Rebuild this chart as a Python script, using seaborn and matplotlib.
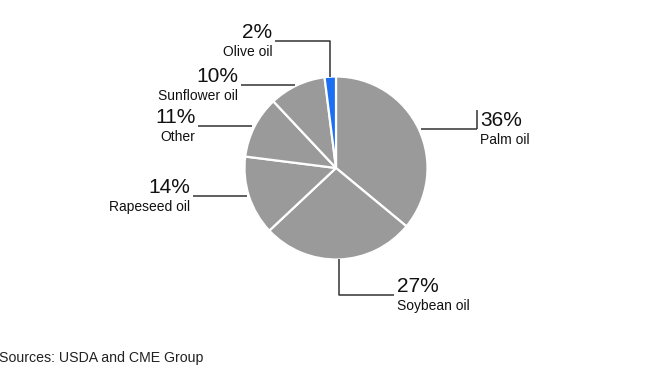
import numpy as np
import matplotlib
matplotlib.use("Agg")
import matplotlib.pyplot as plt
import seaborn as sns

# ---- data ----
categories = ["Palm oil", "Soybean oil", "Rapeseed oil", "Other", "Sunflower oil", "Olive oil"]
shares = [36, 27, 14, 11, 10, 2]
pct_labels = ["36%", "27%", "14%", "11%", "10%", "2%"]
source_text = "Sources: USDA and CME Group"

# ---- style ----
sns.set_theme(style="white")
plt.rcParams['font.family'] = ['Liberation Sans', 'DejaVu Sans']

W, H, DPI = 651, 372, 100
fig = plt.figure(figsize=(W / DPI, H / DPI), dpi=DPI)
ax = fig.add_axes([0, 0, 1, 1])

gray = "#9a9a9a"
blue = "#1a6ff2"
colors = [blue if c == "Olive oil" else gray for c in categories]

cx, cy, R = 336, 204, 91.5
wedges, _ = ax.pie(shares, colors=colors, startangle=90, counterclock=False,
                   radius=R, center=(cx, cy), frame=True,
                   wedgeprops=dict(edgecolor="white", linewidth=1.6))
ax.set_xlim(0, W)
ax.set_ylim(0, H)
ax.set_aspect("equal")
ax.axis("off")

# leader-line layout: (mode, vertical length, horizontal length)
layout = {
    "Palm oil": ("h", 0, 58),
    "Soybean oil": ("v", -36, 55),
    "Rapeseed oil": ("h", 0, -56),
    "Other": ("h", 0, -56),
    "Sunflower oil": ("h", 0, -56),
    "Olive oil": ("v", 36, -55),
}
line_kw = dict(color="#333333", lw=1.1, solid_capstyle="butt")

for w, cat, pct in zip(wedges, categories, pct_labels):
    mid = np.deg2rad((w.theta1 + w.theta2) / 2)
    ex, ey = cx + R * np.cos(mid), cy + R * np.sin(mid)
    mode, dv, dh = layout[cat]
    if mode == "h":
        xs, ys = [ex + np.sign(dh) * 2, ex + dh], [ey, ey]
    else:
        xs, ys = [ex, ex, ex + dh], [ey, ey + dv, ey + dv]
    ax.plot(xs, ys, **line_kw)
    tx, ty = xs[-1], ys[-1]
    s = 1 if dh > 0 else -1
    ha = "left" if s > 0 else "right"
    if cat == "Palm oil":
        ax.plot([tx, tx], [ty, ty + 19], **line_kw)
    ax.text(tx + s * 3, ty + 3, pct, ha=ha, va="baseline", fontsize=15, color="#111111")
    ax.text(tx + s * 3, ty - 15, cat, ha=ha, va="baseline", fontsize=10, color="#111111")

ax.text(-1, 10, source_text, ha="left", va="baseline", fontsize=10.2, color="#222222")

fig.savefig("out.png", dpi=DPI)
